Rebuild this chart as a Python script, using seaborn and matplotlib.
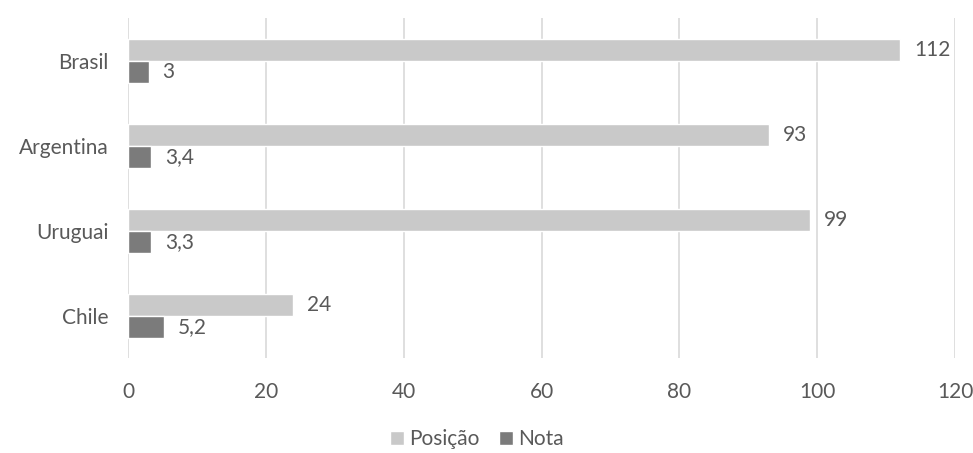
import matplotlib
matplotlib.use('Agg')
import matplotlib.pyplot as plt
import seaborn as sns
import pandas as pd

# dados do gráfico
paises = ['Brasil', 'Argentina', 'Uruguai', 'Chile']
posicao = [112, 93, 99, 24]
nota = [3, 3.4, 3.3, 5.2]
series = ['Posição', 'Nota']
cores = ['#C9C9C9', '#7B7B7B']

df = pd.DataFrame({
    'pais': paises * 2,
    'serie': [series[0]] * len(paises) + [series[1]] * len(paises),
    'valor': posicao + nota,
})

sns.set_theme(style='white')
plt.rcParams['font.family'] = ['Lato', 'DejaVu Sans']
texto = '#595959'
fs = 15

fig = plt.figure(figsize=(9.73, 4.53), dpi=100)
ax = fig.add_axes([0.1316, 0.209, 0.85, 0.751])

sns.barplot(data=df, y='pais', x='valor', hue='serie', order=paises,
            hue_order=series, palette=cores, orient='h', width=0.52,
            saturation=1, ax=ax, legend=True)

def fmt(v):
    return (f'{v:g}').replace('.', ',')

for cont in ax.containers:
    ax.bar_label(cont, labels=[fmt(b.get_width()) for b in cont],
                 padding=10, fontsize=fs, color=texto)

ax.set_xlim(0, 120)
ax.set_xticks(range(0, 121, 20))
ax.grid(axis='x', color='#D9D9D9', linewidth=1.2)
ax.set_axisbelow(True)
for s in ax.spines.values():
    s.set_visible(False)
ax.set_xlabel('')
ax.set_ylabel('')
ax.tick_params(axis='both', length=0, labelsize=fs, labelcolor=texto)
ax.tick_params(axis='x', pad=17)
ax.tick_params(axis='y', pad=14)

h, l = ax.get_legend_handles_labels()
ax.legend(h, l, loc='center', ncol=2, frameon=False, fontsize=fs,
          handlelength=0.7, handleheight=0.7, handletextpad=0.25,
          columnspacing=0.9, labelcolor=texto)
ax.get_legend().set_bbox_to_anchor((0.49, 0.03), transform=fig.transFigure)

fig.savefig('out.png', dpi=100)
